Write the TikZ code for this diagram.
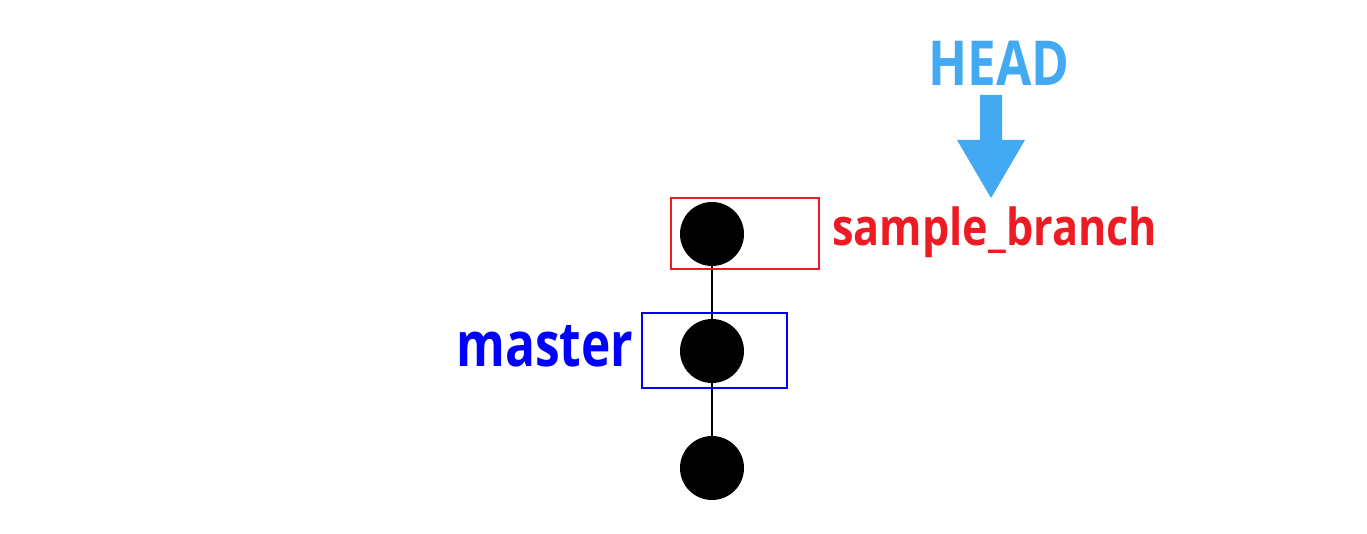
\documentclass[tikz,border=0pt]{standalone}
\usepackage{fontspec}
\setmainfont{Open Sans}
\usepackage{graphicx}
\definecolor{bred}{HTML}{ED1C24}
\definecolor{bblue}{HTML}{0000FF}
\definecolor{headblue}{HTML}{42A9F2}
\tikzset{
  commit/.style={circle, fill=black, minimum size=64pt, inner sep=0pt},
  branchbox/.style={draw, line width=1.5pt, minimum width=#1, inner sep=0pt},
  label/.style={inner sep=0pt, anchor=base west, font=\bfseries},
  link/.style={line width=2pt}
}
\begin{document}
\begin{tikzpicture}[x=1pt,y=-1pt]
\useasboundingbox (0,0) rectangle (1367,534);
\node[commit] (c1) at (712,234) {};
\node[commit] (c2) at (712,351) {};
\node[commit] (c3) at (712,468) {};
\draw[link] (c1) -- (c2);
\draw[link] (c2) -- (c3);
\node[branchbox=148pt, minimum height=71pt, draw=bred] (rb) at (745,233.5) {};
\node[branchbox=145pt, minimum height=75pt, draw=bblue] (bb) at (714.5,350.5) {};
\node[label, text=bred] (sb) at (832,246) {\fontsize{51}{60}\selectfont\resizebox{325pt}{\height}{sample\_branch}};
\node[label, text=bblue] (ms) at (456,366) {\fontsize{62}{70}\selectfont\resizebox{177pt}{\height}{master}};
\node[label, text=headblue] (hd) at (928,86) {\fontsize{62}{70}\selectfont\resizebox{141pt}{\height}{HEAD}};
\fill[headblue] (980,95) -- (1002,95) -- (1002,140) -- (1025,140) -- (991,198) -- (957,140) -- (980,140) -- cycle;
\end{tikzpicture}
\end{document}
